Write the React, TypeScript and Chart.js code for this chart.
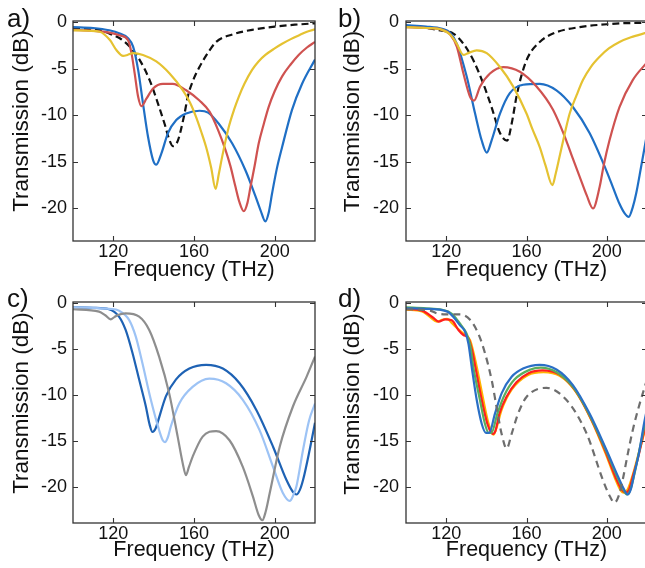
import React, { useEffect, useRef } from "react";
import { Chart, registerables } from "chart.js";
Chart.register(...registerables);

const FONT = '"Liberation Sans", Arial, sans-serif';
const xTickValues = [120, 160, 200];
const yTickValues = [-20, -15, -10, -5, 0];
const xTitle = "Frequency (THz)";
const yTitle = "Transmission (dB)";

// ---- panel a ----
const aFreqBlack = [100,110,113.3,119.9,123.2,128.1,133.1,138,142.1,145.4,147.9,149.5,152,155.3,157,160,162.7,166.8,171,179,190,200,210,220];
const aBlack = [-0.6,-0.75,-0.83,-1.37,-1.7,-2.6,-4.05,-6.2,-8.7,-10.9,-12.7,-13.3,-12.7,-9.8,-7.9,-6.0,-4.8,-3.3,-2.1,-1.3,-0.75,-0.45,-0.25,-0.1];
const aFreqYellow = [100,108,113.3,118.3,121.6,124.8,127,129.8,134.7,141.3,147.9,154.5,158,161.1,163.5,166,168.5,170.7,172.3,174,177.3,180,182.2,185,188.8,192,195.4,200,203.7,208,211.9,216,220];
const aYellow = [-0.85,-0.9,-1.0,-1.9,-3.0,-3.6,-3.5,-3.3,-3.5,-4.2,-5.5,-7.3,-8.6,-10.2,-11.7,-13.4,-15.6,-17.9,-16.3,-14.4,-11.2,-9.3,-8.0,-6.6,-5.1,-4.2,-3.5,-2.8,-2.3,-1.8,-1.4,-1.0,-0.75];
const aFreqRed = [100,110,118,123.2,127.3,129,130.6,132.3,133.9,136.4,139.7,144.6,149.5,156.1,162.7,167.7,172,175.6,178,180.6,182.5,184.7,186.5,188,190,192.1,194.5,197,200,203.7,208,211.9,216,220];
const aRed = [-0.8,-0.9,-1.1,-1.4,-1.9,-3.3,-5.5,-8.0,-9.0,-8.2,-7.1,-6.6,-6.6,-7.3,-8.4,-9.6,-11.6,-13.7,-15.4,-17.7,-19.3,-20.3,-19.4,-17.7,-15.5,-13.0,-11.0,-9.1,-7.4,-5.8,-4.5,-3.5,-2.7,-2.1];
const aFreqBlue = [100,110,118,123.2,127.3,129.8,132.3,134.7,137.2,139.7,141.3,143.8,147.1,151.2,156.1,162.7,167,172.3,178.9,185.5,190.5,193,195.4,197,198.7,201,203.7,208.6,213.6,220];
const aBlue = [-0.5,-0.6,-0.85,-1.2,-1.7,-2.6,-5.1,-8.7,-12.3,-14.8,-15.3,-14.1,-11.9,-10.5,-9.8,-9.5,-9.7,-10.9,-13.0,-15.9,-18.7,-20.2,-21.4,-20.5,-18.4,-15.8,-13.4,-9.4,-6.6,-4.0];

// ---- panel b ----
const bFreqBlack = [100,110,118,123.6,128.6,133.6,138.5,142.6,146.8,150.4,152.6,155,157.5,160.8,166.6,173.2,186.5,200,206.3,220];
const bBlack = [-0.4,-0.6,-0.9,-1.2,-2.3,-4.1,-6.6,-9.1,-11.9,-12.7,-10.9,-8.0,-5.7,-3.7,-2.1,-1.2,-0.5,-0.2,-0.1,-0.05];
const bFreqYellow = [100,110,118,122,125.3,128.6,131,135.2,140.2,146.8,153.4,160,163,166.6,169.5,172.9,174.5,176.5,179,181.5,185,188.1,192,196.4,201,206.3,212,220];
const bYellow = [-0.5,-0.6,-0.8,-1.3,-2.3,-3.5,-3.3,-3.0,-3.3,-4.8,-6.9,-9.8,-11.5,-13.4,-15.4,-17.5,-16.3,-14.4,-12.0,-9.8,-7.8,-6.2,-4.8,-3.7,-2.8,-2.1,-1.6,-1.1];
const bFreqRed = [100,110,118,122,125.3,128.6,131.9,133.9,136.9,141.8,148.4,156.7,165,173.2,179.8,183,186.5,190,193.1,196.4,198.5,201.3,206.3,212.9,220];
const bRed = [-0.5,-0.6,-0.8,-1.3,-2.6,-5.5,-8.0,-8.4,-6.9,-5.5,-4.8,-5.3,-6.9,-9.4,-12.7,-14.6,-16.6,-18.6,-20.0,-17.7,-15.3,-12.7,-9.1,-6.2,-4.3];
const bFreqBlue = [100,110,118,122,125.3,130.2,134.4,137.7,140.2,142.6,146.8,151.7,158.3,166.6,174.9,183.1,191.4,199.7,203,206.3,208.8,210.9,213,214.6,217,220];
const bBlue = [-0.3,-0.45,-0.7,-1.1,-2.3,-5.8,-9.8,-12.7,-14.0,-12.7,-9.8,-7.6,-6.7,-6.6,-7.3,-9.1,-11.9,-15.9,-17.7,-19.5,-20.5,-20.9,-19.8,-18.4,-15.6,-12.0];

// ---- panel c ----
const cFreqDark = [100,110,117.8,122.8,126.1,129.5,132.8,136.1,138,139.4,141,141.9,146.1,151,157.7,166,174.3,182.6,190.9,199.2,205.8,209,210.8,212.5,214.1,217.4,220];
const cDark = [-0.43,-0.5,-0.65,-1.45,-2.9,-5.4,-8.3,-11.2,-13.2,-14.0,-13.6,-13.0,-10.1,-8.3,-7.1,-6.7,-7.1,-8.7,-11.6,-15.6,-19.2,-20.5,-20.8,-20.3,-19.2,-15.9,-13.0];
const cFreqLight = [100,110,118,122.8,127.8,131.1,134.4,138.6,142.7,144.5,145.6,147,148.5,152.7,159.3,167.6,175.9,184.2,192.5,199.2,204,207.5,209,210.8,214.1,217,220];
const cLight = [-0.43,-0.5,-0.6,-0.8,-1.8,-3.6,-6.5,-10.5,-13.8,-14.9,-15.1,-14.6,-13.4,-10.9,-9.1,-8.2,-8.7,-10.5,-13.8,-17.8,-20.6,-21.5,-21.0,-19.9,-15.9,-12.8,-10.9];
const cFreqGray = [100,112.9,116,118.7,120.5,122,126.1,132.8,137.8,142.7,147.7,151.9,154.5,156,157.5,159.3,164.3,171,177.6,184.2,189.2,192,193.9,195.5,197.5,202.5,209.1,215.8,220];
const cGray = [-0.65,-0.9,-1.3,-1.75,-1.5,-1.3,-1.1,-1.45,-2.9,-5.8,-9.8,-14.5,-17.5,-18.7,-17.8,-16.7,-14.5,-13.9,-14.9,-17.8,-21.0,-23.0,-23.6,-22.7,-20.7,-15.6,-11.2,-8.0,-5.8];

// ---- panel d ----
const dFreqGray = [100,112,115.4,118.7,122,126.9,131.9,136,139.3,142.7,145.1,147.6,150.1,152.6,155.8,160,169.9,179.8,189.8,198,201.5,203.8,206,207.9,210.5,212.9,216,220];
const dGray = [-0.65,-0.8,-1.1,-1.2,-1.2,-1.2,-1.8,-3.3,-5.4,-8.4,-11.3,-14.2,-15.8,-14.2,-12.0,-10.2,-9.2,-10.5,-14.1,-19.2,-21.0,-21.7,-20.9,-19.2,-16.3,-13.8,-11.2,-8.3];
const dFreqBlue = [100,110,118,121,123.6,126.9,129.4,131.1,132.7,135.2,137.7,139.8,141.4,144.3,147.6,152.6,158.3,166.6,174.9,183.1,191.4,199.7,205.5,208.5,210.4,212,213.7,216,218.6,220];
const dBlue = [-0.55,-0.6,-0.75,-0.95,-1.5,-2.4,-3.1,-4.4,-6.9,-10.5,-13.1,-14.1,-14.1,-12.0,-9.8,-8.0,-7.1,-6.7,-7.2,-8.9,-12.0,-15.9,-18.8,-20.2,-20.8,-20.2,-18.5,-16.3,-13.0,-11.5];
const dFreqGreen = [100,110,118,121,124,127.5,130.2,132,133.5,136.8,139.3,141.2,142.5,145.5,149,154,162,167,175,183.5,191.5,199.5,205,208,210,211.5,213.5,216,220];
const dGreen = [-0.45,-0.55,-0.7,-0.9,-1.4,-2.4,-3.3,-4.6,-6.9,-10.5,-13.1,-14.1,-14.1,-12.0,-10.0,-8.3,-7.2,-7.0,-7.5,-9.2,-12.2,-16.0,-18.8,-20.2,-20.8,-20.4,-18.8,-16.2,-12.0];
const dFreqRed = [100,108,113.7,116.2,119.5,122.8,126.1,128.6,131.1,133,134.5,137.7,140.5,142.5,143.3,144.5,146.5,150,155,161,168,176,184,192,199.5,204.5,207.5,209.3,211,213,216,220];
const dRed = [-0.6,-0.8,-1.6,-2.0,-1.75,-1.85,-2.9,-3.45,-3.8,-5.2,-6.9,-10.5,-13.1,-14.1,-14.2,-13.9,-12.0,-10.2,-8.6,-7.6,-7.3,-7.7,-9.4,-12.5,-16.2,-19.0,-20.3,-20.6,-20.3,-18.8,-16.4,-12.5];
const dFreqOrange = [100,108,112,115.4,118,120.5,123,126,128.6,131.9,135.2,138.5,141,143.5,145,147.6,152.6,160.8,168.5,176.5,184.5,192.5,199.5,204,207,208.5,210.5,213,216,220];
const dOrange = [-0.7,-0.9,-1.5,-2.0,-1.8,-1.7,-2.2,-2.8,-3.3,-4.0,-6.9,-10.5,-13.0,-14.3,-13.6,-11.6,-9.4,-7.8,-7.5,-7.9,-9.6,-12.8,-16.4,-19.0,-20.4,-20.6,-20.2,-18.6,-16.2,-13.0];

type Series = { f: number[]; v: number[]; color: string; dash?: number[] };
type Panel = {
  label: string; left: number; top: number; width: number; height: number;
  padTop: number; padRight: number; yWidth: number; xHeight: number;
  yMin: number; yMax: number; tickPad: number; titlePadBottom: number;
  labelX: number; labelY: number; yTitleX: number; yTitleY: number;
  series: Series[];
};

const panels: Panel[] = [
  {
    label: "a)", left: 0, top: 0, width: 320, height: 284, padTop: 21, padRight: 5, yWidth: 73, xHeight: 43,
    yMin: -23.5, yMax: 0.15, tickPad: 6, titlePadBottom: 0.6, labelX: 7, labelY: 26.5, yTitleX: 27.5, yTitleY: 121,
    series: [
      { f: aFreqYellow, v: aYellow, color: "#e5c231" },
      { f: aFreqRed, v: aRed, color: "#cf5250" },
      { f: aFreqBlue, v: aBlue, color: "#1f6fc5" },
      { f: aFreqBlack, v: aBlack, color: "#111111", dash: [7, 4] },
    ],
  },
  {
    label: "b)", left: 320, top: 0, width: 335, height: 284, padTop: 21, padRight: 8, yWidth: 86, xHeight: 43,
    yMin: -23.5, yMax: 0.15, tickPad: 7, titlePadBottom: 0.6, labelX: 18, labelY: 26.5, yTitleX: 39, yTitleY: 121.5,
    series: [
      { f: bFreqYellow, v: bYellow, color: "#e5c231" },
      { f: bFreqRed, v: bRed, color: "#cf5250" },
      { f: bFreqBlue, v: bBlue, color: "#1f6fc5" },
      { f: bFreqBlack, v: bBlack, color: "#111111", dash: [7, 4] },
    ],
  },
  {
    label: "c)", left: 0, top: 280, width: 320, height: 288, padTop: 22, padRight: 5, yWidth: 73, xHeight: 45,
    yMin: -23.9, yMax: 0.14, tickPad: 6, titlePadBottom: 4.6, labelX: 7, labelY: 26.7, yTitleX: 27.5, yTitleY: 123,
    series: [
      { f: cFreqGray, v: cGray, color: "#8e8e8e" },
      { f: cFreqLight, v: cLight, color: "#9dc3f5" },
      { f: cFreqDark, v: cDark, color: "#1e62b4" },
    ],
  },
  {
    label: "d)", left: 320, top: 280, width: 335, height: 288, padTop: 22, padRight: 8, yWidth: 86, xHeight: 45,
    yMin: -23.9, yMax: 0.14, tickPad: 7, titlePadBottom: 4.6, labelX: 18, labelY: 26.7, yTitleX: 39, yTitleY: 124,
    series: [
      { f: dFreqGray, v: dGray, color: "#6e6e6e", dash: [7, 5] },
      { f: dFreqBlue, v: dBlue, color: "#2a6fc6" },
      { f: dFreqGreen, v: dGreen, color: "#5aad5c" },
      { f: dFreqRed, v: dRed, color: "#ff1f1f" },
      { f: dFreqOrange, v: dOrange, color: "#ffb400" },
    ],
  },
];

const framePlugin = {
  id: "panelFrame",
  afterDraw(chart: any, _args: any, opts: any) {
    const { ctx, chartArea: ca, scales } = chart;
    ctx.save();
    ctx.strokeStyle = "#333333";
    ctx.lineWidth = 1.3;
    ctx.strokeRect(ca.left, ca.top, ca.right - ca.left, ca.bottom - ca.top);
    ctx.beginPath();
    const tl = 5;
    for (const t of scales.x.ticks) {
      const px = Math.round(scales.x.getPixelForValue(t.value)) + 0.5;
      ctx.moveTo(px, ca.bottom); ctx.lineTo(px, ca.bottom - tl);
      ctx.moveTo(px, ca.top); ctx.lineTo(px, ca.top + tl);
    }
    for (const t of scales.y.ticks) {
      const py = Math.round(scales.y.getPixelForValue(t.value)) + 0.5;
      ctx.moveTo(ca.left, py); ctx.lineTo(ca.left + tl, py);
      ctx.moveTo(ca.right, py); ctx.lineTo(ca.right - tl, py);
    }
    ctx.lineWidth = 1.1;
    ctx.stroke();
    ctx.fillStyle = "#111111";
    ctx.font = `26px ${FONT}`;
    ctx.textAlign = "left";
    ctx.textBaseline = "alphabetic";
    ctx.fillText(opts.label, opts.labelX, opts.labelY);
    ctx.translate(opts.yTitleX, opts.yTitleY);
    ctx.rotate(-Math.PI / 2);
    ctx.textAlign = "center";
    ctx.font = `22.5px ${FONT}`;
    ctx.fillText(yTitle, 0, 0);
    ctx.restore();
  },
};

function makeConfig(p: Panel): any {
  return {
    type: "line",
    data: {
      datasets: p.series.map((s) => ({
        data: s.f.map((x, i) => ({ x, y: s.v[i] })),
        borderColor: s.color,
        borderWidth: 2.2,
        borderDash: s.dash || [],
        pointRadius: 0,
        cubicInterpolationMode: "monotone",
        fill: false,
      })),
    },
    options: {
      animation: false,
      responsive: false,
      devicePixelRatio: 1,
      layout: { padding: { left: 0, right: p.padRight, top: p.padTop, bottom: 0 } },
      plugins: {
        legend: { display: false },
        tooltip: { enabled: false },
        panelFrame: { label: p.label, labelX: p.labelX, labelY: p.labelY, yTitleX: p.yTitleX, yTitleY: p.yTitleY },
      },
      scales: {
        x: {
          type: "linear",
          min: 100,
          max: 220,
          afterBuildTicks: (s: any) => { s.ticks = xTickValues.map((value) => ({ value })); },
          afterFit: (s: any) => { s.height = p.xHeight; },
          grid: { display: false, drawTicks: false },
          border: { display: false },
          ticks: { color: "#111111", font: { family: FONT, size: 18 }, padding: 0, maxRotation: 0, autoSkip: false, callback: (v: any) => String(v) },
          title: { display: true, text: xTitle, color: "#111111", font: { family: FONT, size: 21.5 }, padding: { top: 0, bottom: p.titlePadBottom } },
        },
        y: {
          type: "linear",
          min: p.yMin,
          max: p.yMax,
          afterBuildTicks: (s: any) => { s.ticks = yTickValues.map((value) => ({ value })); },
          afterFit: (s: any) => { s.width = p.yWidth; },
          grid: { display: false, drawTicks: false },
          border: { display: false },
          ticks: { color: "#111111", font: { family: FONT, size: 18 }, padding: p.tickPad, autoSkip: false, callback: (v: any) => String(v) },
        },
      },
    },
    plugins: [framePlugin],
  };
}

function PanelChart({ p }: { p: Panel }) {
  const ref = useRef<HTMLCanvasElement | null>(null);
  useEffect(() => {
    if (!ref.current) return;
    const chart = new Chart(ref.current, makeConfig(p));
    return () => chart.destroy();
  }, [p]);
  return (
    <canvas
      ref={ref}
      width={p.width}
      height={p.height}
      style={{ position: "absolute", left: p.left, top: p.top, width: p.width, height: p.height, display: "block" }}
    />
  );
}

export default function App() {
  return (
    <div style={{ position: "fixed", left: 0, top: 0, width: 645, height: 568, overflow: "hidden", background: "#ffffff" }}>
      {panels.map((p) => (
        <PanelChart key={p.label} p={p} />
      ))}
    </div>
  );
}
